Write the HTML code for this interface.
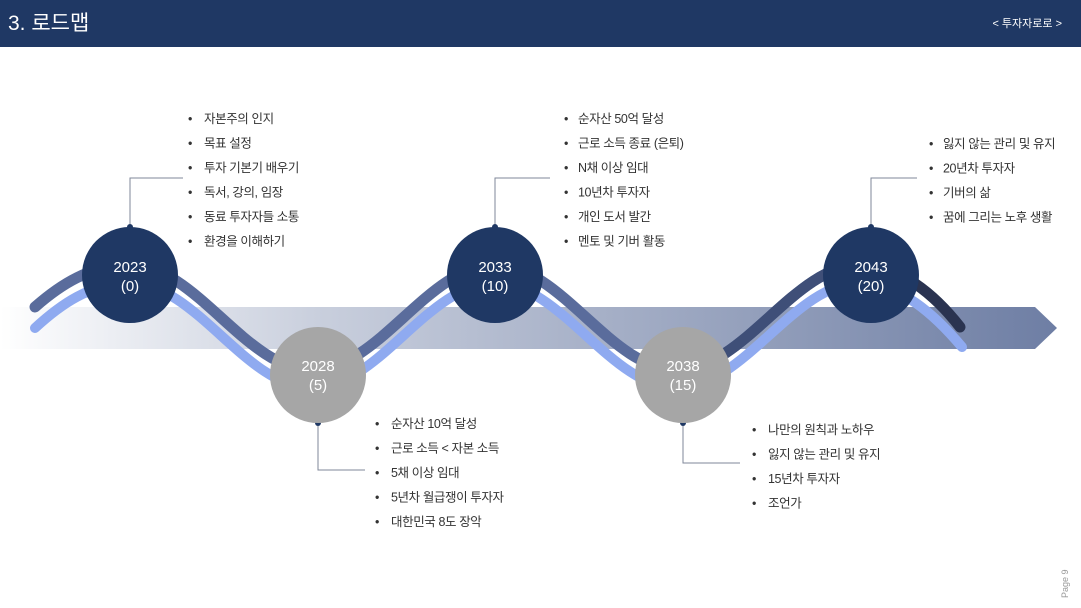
<!DOCTYPE html>
<html><head><meta charset="utf-8"><style>
body{margin:0;width:1081px;height:608px;overflow:hidden;background:#fff;font-family:"Liberation Sans","Noto Sans CJK KR",sans-serif}
svg{position:absolute;left:0;top:0}
</style></head><body>
<svg width="1081" height="608" viewBox="0 0 1081 608" font-family="Liberation Sans, Noto Sans CJK KR, sans-serif">
<defs>
<linearGradient id="g" x1="0" x2="1" y1="0" y2="0">
<stop offset="0" stop-color="#fff"/><stop offset="0.3" stop-color="#c9cfdd"/><stop offset="1" stop-color="#6e7ea4"/></linearGradient>
</defs>
<rect x="0" y="0" width="1081" height="47" fill="#1f3864"/>
<text x="8" y="30" font-size="21" fill="#fff">3. 로드맵</text>
<text x="1062" y="27" font-size="11" fill="#fff" text-anchor="end">&lt; 투자자로로 &gt;</text>
<polygon points="0,307 1035,307 1057,328 1035,349 0,349" fill="url(#g)"/>
<path d="M35,328 C60,305 90,283 130,283 C196,283 246,388 312,388 C379,388 428,283 495,283 C561,283 611,388 677,388 C744,388 794,283 860,283 C900,283 935,315 962,347" fill="none" stroke="#8faaf0" stroke-width="10" stroke-linecap="round"/>
<path d="M35,307 C60,285 90,265 130,265 C196,265 246,370 312,370 C379,370 428,265 495,265 C561,265 611,370 677,370 C744,370 794,265 860,265" fill="none" stroke="#5a6c9c" stroke-width="11" stroke-linecap="round"/>
<path d="M860,265 C900,265 935,295 960,327" fill="none" stroke="#2a3350" stroke-width="11" stroke-linecap="round"/>
<path d="M677,370 C744,370 794,265 860,265" fill="none" stroke="#3f4f78" stroke-width="11" stroke-linecap="round"/>
<g stroke="#7f8799" stroke-width="1" fill="none">
<polyline points="130,227 130,178 183,178"/>
<polyline points="495,227 495,178 550,178"/>
<polyline points="871,227 871,178 917,178"/>
<polyline points="318,423 318,470 365,470"/>
<polyline points="683,423 683,463 740,463"/>
</g>
<g fill="#1f3864"><circle cx="130" cy="227" r="3"/><circle cx="495" cy="227" r="3"/><circle cx="871" cy="227" r="3"/><circle cx="318" cy="423" r="3"/><circle cx="683" cy="423" r="3"/></g>
<g font-size="15" fill="#fff" text-anchor="middle">
<circle cx="130" cy="275" r="48" fill="#1f3864"/><text x="130" y="272">2023</text><text x="130" y="291">(0)</text>
<circle cx="495" cy="275" r="48" fill="#1f3864"/><text x="495" y="272">2033</text><text x="495" y="291">(10)</text>
<circle cx="871" cy="275" r="48" fill="#1f3864"/><text x="871" y="272">2043</text><text x="871" y="291">(20)</text>
<circle cx="318" cy="375" r="48" fill="#a6a6a6"/><text x="318" y="371">2028</text><text x="318" y="390">(5)</text>
<circle cx="683" cy="375" r="48" fill="#a6a6a6"/><text x="683" y="371">2038</text><text x="683" y="390">(15)</text>
</g>
<g font-size="12.5" fill="#333" letter-spacing="-0.4">
<g transform="translate(188,123)">
<text y="0">•</text><text y="24.5">•</text><text y="49">•</text><text y="73.5">•</text><text y="98">•</text><text y="122.5">•</text>
<text x="16" y="0">자본주의 인지</text><text x="16" y="24.5">목표 설정</text><text x="16" y="49">투자 기본기 배우기</text><text x="16" y="73.5">독서, 강의, 임장</text><text x="16" y="98">동료 투자자들 소통</text><text x="16" y="122.5">환경을 이해하기</text></g>
<g transform="translate(564,123)">
<text y="0">•</text><text y="24.5">•</text><text y="49">•</text><text y="73.5">•</text><text y="98">•</text><text y="122.5">•</text>
<text x="14" y="0">순자산 50억 달성</text><text x="14" y="24.5">근로 소득 종료 (은퇴)</text><text x="14" y="49">N채 이상 임대</text><text x="14" y="73.5">10년차 투자자</text><text x="14" y="98">개인 도서 발간</text><text x="14" y="122.5">멘토 및 기버 활동</text></g>
<g transform="translate(929,148)">
<text y="0">•</text><text y="24.5">•</text><text y="49">•</text><text y="73.5">•</text>
<text x="14" y="0">잃지 않는 관리 및 유지</text><text x="14" y="24.5">20년차 투자자</text><text x="14" y="49">기버의 삶</text><text x="14" y="73.5">꿈에 그리는 노후 생활</text></g>
<g transform="translate(375,428)">
<text y="0">•</text><text y="24.5">•</text><text y="49">•</text><text y="73.5">•</text><text y="98">•</text>
<text x="16" y="0">순자산 10억 달성</text><text x="16" y="24.5">근로 소득 &lt; 자본 소득</text><text x="16" y="49">5채 이상 임대</text><text x="16" y="73.5">5년차 월급쟁이 투자자</text><text x="16" y="98">대한민국 8도 장악</text></g>
<g transform="translate(752,434)">
<text y="0">•</text><text y="24.5">•</text><text y="49">•</text><text y="73.5">•</text>
<text x="16" y="0">나만의 원칙과 노하우</text><text x="16" y="24.5">잃지 않는 관리 및 유지</text><text x="16" y="49">15년차 투자자</text><text x="16" y="73.5">조언가</text></g>
</g>
<text transform="translate(1068,598) rotate(-90)" font-size="9" fill="#999">Page 9</text>
</svg>
</body></html>
